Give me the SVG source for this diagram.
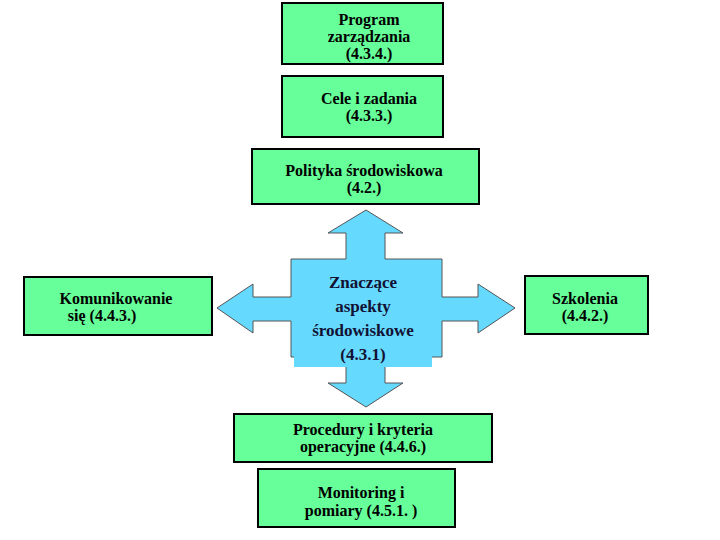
<svg xmlns="http://www.w3.org/2000/svg" width="720" height="540" viewBox="0 0 720 540">
<style>
.b{fill:#66ff99;stroke:#000;stroke-width:2}
text{font-family:"Liberation Serif",serif;font-size:16px;font-weight:bold;fill:#000;text-anchor:middle}
.c{fill:#111133;font-size:17px}
</style>
<rect width="720" height="540" fill="#fff"/>
<g id="connectors">
<path d="M366,210 L403,233 L385,233 L385,259 L442,259 L442,297 L478,297 L478,284 L515,308 L478,333 L478,321 L442,321 L442,357 L385,357 L385,383 L403,383 L366,407 L328,383 L346,383 L346,357 L291,357 L291,321 L253,321 L253,333 L217,308 L253,284 L253,297 L291,297 L291,259 L346,259 L346,233 L328,233 Z" fill="#66d9ff" stroke="#555" stroke-width="1"/>
<rect x="294" y="355" width="138" height="12" fill="#66d9ff"/>
</g>
<g id="center"><text class="c" x="363" y="288">Znaczące</text><text class="c" x="363" y="312">aspekty</text><text class="c" x="363" y="336">środowiskowe</text><text class="c" x="363" y="360">(4.3.1)</text></g>
<g id="program"><rect class="b" x="282" y="3" width="161" height="61"/><text x="369" y="25">Program</text><text x="369" y="42">zarządzania</text><text x="369" y="59">(4.3.4.)</text></g>
<g id="cele"><rect class="b" x="282" y="76" width="161" height="61"/><text x="369" y="104">Cele i zadania</text><text x="369" y="121">(4.3.3.)</text></g>
<g id="polityka"><rect class="b" x="252" y="149" width="227" height="55"/><text x="364" y="176">Polityka środowiskowa</text><text x="364" y="193">(4.2.)</text></g>
<g id="komunikowanie"><rect class="b" x="24" y="277" width="188" height="58"/><text x="116" y="304">Komunikowanie</text><text x="102" y="321">się (4.4.3.)</text></g>
<g id="szkolenia"><rect class="b" x="525" y="276" width="123" height="58"/><text x="585" y="304">Szkolenia</text><text x="585" y="321">(4.4.2.)</text></g>
<g id="procedury"><rect class="b" x="234" y="414" width="258" height="48"/><text x="363" y="435">Procedury i kryteria</text><text x="363" y="452">operacyjne (4.4.6.)</text></g>
<g id="monitoring"><rect class="b" x="258" y="469" width="197" height="58"/><text x="361" y="498">Monitoring i</text><text x="361" y="516">pomiary (4.5.1. )</text></g>
</svg>
